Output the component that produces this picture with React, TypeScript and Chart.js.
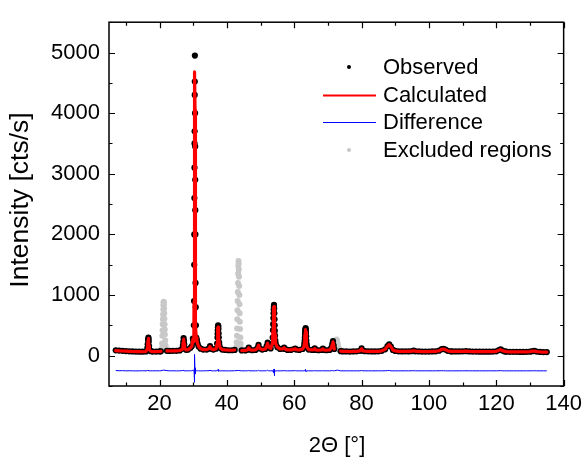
import React, { useEffect, useRef } from 'react';
import { Chart, registerables } from 'chart.js';
Chart.register(...registerables);

const FONT = '"Liberation Sans", Arial, Helvetica, sans-serif';

const twoTheta = [
  7, 8, 9, 10, 11, 12, 13, 14, 15, 16.0, 16.4, 16.5, 16.6, 16.7, 16.75, 16.8, 16.9, 17.0, 17.4, 18, 19, 20, 20.4,
  21.2,
  22.2, 23, 24, 25, 26, 26.75, 26.95, 27.05, 27.15, 27.25, 27.35, 27.45, 27.9, 28.5, 29.2, 29.6, 29.9, 30.05,
  30.2, 30.25, 30.3, 30.32, 30.35, 30.38, 30.4, 30.42, 30.45, 30.48, 30.5, 30.55, 30.58, 30.6, 30.62, 30.65, 30.7, 30.75, 30.8,
  30.9, 31.1, 31.3, 31.6, 32.2, 33, 34, 34.7, 35.0, 35.3, 36, 36.8,
  37.1, 37.2, 37.25, 37.3, 37.35, 37.4, 37.45, 37.5, 37.55, 37.6, 37.7, 37.75, 38, 38.6, 39.5, 40.5, 41.5, 42.3,
  43.4,
  44.4, 45.5, 46.2, 46.5, 46.8, 47.5, 48.5, 49.1, 49.4, 49.7,
  50.5, 51.4, 51.8, 52.1, 52.4,
  53.0, 53.5, 53.6, 53.7, 53.75, 53.8, 53.85, 53.9, 53.95, 54.0, 54.05, 54.1, 54.15, 54.2, 54.25, 54.3, 54.4, 54.5,
  55, 55.8, 56.7, 57.0, 57.3, 58, 59, 60, 60.3, 60.6, 61.5, 62.5,
  62.9, 63.0, 63.1, 63.15, 63.2, 63.25, 63.3, 63.35, 63.4, 63.45, 63.5, 63.55, 63.6, 63.7, 63.8,
  64.3, 65.3, 65.8, 66.1, 66.4, 67.2, 68.2, 68.5, 68.8, 69.5, 70.5, 71.0, 71.3, 71.5, 71.7, 71.9,
  72.8,
  73.8, 74.5, 75.5, 76.5, 77.5, 78.5, 79.5, 80.0, 80.4, 81, 82, 83, 84, 85, 86, 87, 87.7, 88.2, 88.7, 89.3,
  90, 91, 92, 93, 94, 95, 95.5, 96, 97, 98, 99, 100, 101, 102, 103, 103.8, 104.3, 104.9, 105.6, 106.5,
  107, 108, 109, 110, 111, 112, 113, 114, 115, 116, 117, 118, 119, 120, 120.8, 121.3, 121.8, 122.5, 123, 124,
  125, 126, 127, 128, 129, 130, 130.8, 131.3, 132, 133, 134, 135,
];

const observed = [
  88, 84, 80, 76, 72, 70, 68, 66, 66, 70, 130, 190, 260, 300, 270, 230, 160, 100, 74, 68, 68, 70, 72,
  null,
  80, 78, 80, 80, 86, 115, 170, 230, 290, 250, 190, 130, 96, 100, 130, 160, 280, 230,
  500, 900, 1500, 2000, 2600, 3100, 3500, 3700, 4300, 4520, 4950, 4000, 3450, 2900, 2400, 2000, 1200, 800, 500,
  300, 260, 200, 150, 115, 100, 100, 120, 160, 115, 100, 115,
  200, 300, 360, 420, 470, 500, 480, 440, 370, 300, 220, 180, 130, 100, 95, 90, 90, 95,
  null,
  86, 86, 100, 135, 100, 90, 95, 130, 180, 120,
  100, 110, 160, 215, 140,
  120, 200, 300, 420, 520, 620, 700, 760, 810, 840, 780, 700, 600, 500, 410, 330, 250, 200,
  140, 110, 115, 135, 110, 95, 95, 110, 115, 100, 95, 110,
  150, 200, 250, 300, 350, 390, 420, 440, 455, 420, 380, 320, 250, 190, 140,
  100, 95, 100, 120, 95, 90, 95, 115, 95, 90, 95, 130, 190, 240, 170, 110,
  null,
  75, 70, 70, 68, 70, 72, 80, 120, 80, 75, 72, 70, 70, 72, 80, 105, 160, 185, 150, 95,
  78, 72, 70, 72, 70, 75, 85, 72, 70, 68, 68, 68, 70, 72, 82, 108, 112, 100, 80, 72,
  70, 70, 70, 72, 75, 70, 68, 68, 66, 66, 66, 66, 68, 72, 92, 105, 85, 70, 66, 64,
  64, 64, 62, 62, 64, 66, 75, 78, 68, 62, 60, 60,
];

const calculated = [
  82, 80, 77, 74, 71, 69, 67, 66, 65, 69, 122, 185, 250, 285, 265, 225, 158, 98, 72, 68, 68, 70, 72,
  null,
  78, 77, 79, 80, 85, 110, 168, 222, 275, 245, 190, 128, 95, 100, 128, 158, 270, 228,
  490, 880, 1480, 2050, 2650, 3150, 3550, 3900, 4350, 4600, 4680, 4050, 3480, 2950, 2450, 1950, 1180, 790, 495,
  298, 255, 200, 150, 116, 100, 100, 118, 150, 114, 100, 114,
  196, 295, 355, 410, 455, 470, 470, 445, 375, 305, 222, 180, 130, 100, 95, 91, 90, 94,
  null,
  85, 86, 99, 130, 100, 90, 95, 128, 172, 120,
  100, 110, 157, 205, 140,
  120, 198, 305, 430, 535, 640, 720, 790, 800, 810, 790, 720, 610, 510, 420, 335, 255, 200,
  140, 110, 114, 130, 110, 95, 95, 108, 112, 100, 95, 110,
  150, 198, 245, 298, 355, 390, 415, 428, 430, 415, 390, 325, 255, 190, 140,
  100, 95, 100, 116, 95, 90, 95, 112, 95, 90, 95, 128, 186, 230, 170, 110,
  null,
  75, 70, 70, 68, 70, 72, 80, 115, 80, 75, 72, 70, 70, 72, 80, 104, 156, 180, 150, 95,
  78, 72, 70, 72, 70, 74, 82, 72, 70, 68, 68, 68, 70, 72, 81, 106, 110, 100, 80, 72,
  70, 70, 70, 72, 74, 70, 68, 68, 66, 66, 66, 66, 68, 72, 90, 102, 85, 70, 66, 64,
  64, 64, 62, 62, 64, 66, 74, 76, 68, 62, 60, 60,
];

const difference = [
  -245, -248, -247, -250, -249, -250, -251, -250, -249, -250, -245, -245, -242, -236, -245, -248, -250, -252, -250, -250, -249, -250, -248,
  -238,
  -246, -250, -249, -251, -250, -246, -248, -243, -236, -247, -250, -250, -250, -250, -249, -248, -242, -248,
  -240, -230, -220, -300, -300, -300, -300, -440, -300, -330, 20, -300, -280, -300, -300, -200, -230, -240, -245,
  -248, -245, -250, -250, -251, -250, -249, -248, -240, -250, -250, -250,
  -246, -245, -245, -240, -235, -228, -240, -255, -255, -255, -252, -250, -250, -250, -250, -251, -250, -249,
  -243,
  -250, -250, -249, -245, -250, -250, -250, -249, -242, -250,
  -250, -250, -247, -240, -250,
  -250, -248, -255, -260, -265, -270, -270, -280, -240, -220, -330, -270, -260, -260, -260, -255, -255, -250,
  -250, -250, -249, -245, -250, -250, -250, -248, -247, -250, -250, -250,
  -250, -248, -245, -248, -255, -250, -245, -238, -225, -245, -260, -255, -255, -250, -250,
  -250, -250, -250, -246, -250, -250, -250, -247, -250, -250, -250, -248, -246, -240, -250, -250,
  -238,
  -250, -250, -250, -250, -250, -250, -250, -245, -250, -250, -250, -250, -250, -250, -250, -249, -246, -244, -250, -250,
  -250, -250, -250, -250, -250, -249, -247, -250, -250, -250, -250, -250, -250, -250, -249, -248, -248, -250, -250, -250,
  -250, -250, -250, -250, -249, -250, -250, -250, -250, -250, -250, -250, -250, -250, -248, -247, -250, -250, -250, -250,
  -250, -250, -250, -250, -250, -250, -249, -248, -250, -250, -250, -250,
];

const excludedTheta = [
  20.55, 20.65, 20.75, 20.85, 20.9, 20.95, 21.0, 21.05, 21.1, 21.15, 21.2, 21.25, 21.3, 21.35, 21.4, 21.45, 21.5, 21.55, 21.6, 21.7, 21.8, 21.9, 22.0,
  42.7, 42.8, 42.9, 43.0, 43.05, 43.1, 43.15, 43.2, 43.25, 43.3, 43.35, 43.4, 43.45, 43.5, 43.55, 43.6, 43.65, 43.7, 43.75, 43.8, 43.85, 43.9, 44.0, 44.1, 44.2, 44.3,
  72.0, 72.2, 72.4, 72.55, 72.7, 72.85, 73.0, 73.2, 73.4, 73.6,
];
const excludedIntensity = [
  85, 120, 200, 330, 420, 520, 600, 680, 760, 830, 880, 890, 850, 780, 700, 610, 520, 430, 350, 250, 170, 120, 95,
  100, 140, 220, 330, 450, 600, 750, 900, 1050, 1200, 1350, 1480, 1560, 1520, 1420, 1300, 1150, 1000, 850, 700, 560, 440, 300, 200, 130, 100,
  110, 180, 240, 265, 250, 210, 170, 130, 100, 85,
];

const xTickValues = [20, 40, 60, 80, 100, 120, 140];
const yTickValues = [0, 1000, 2000, 3000, 4000, 5000];
const xMinorStep = 10;
const yMinorStep = 500;

const legendItems = [
  { label: 'Observed', kind: 'dot', color: '#000000' },
  { label: 'Calculated', kind: 'line', color: '#ff0000', width: 2 },
  { label: 'Difference', kind: 'line', color: '#0000ff', width: 1 },
  { label: 'Excluded regions', kind: 'dot', color: '#c8c8c8' },
];

const framePlugin = {
  id: 'framePlugin',
  afterDraw(chart: any) {
    const { ctx, chartArea: a, scales } = chart;
    const xs = scales.x;
    const ys = scales.y;
    ctx.save();
    ctx.strokeStyle = '#000';
    ctx.lineWidth = 1.5;
    ctx.strokeRect(a.left, a.top, a.right - a.left, a.bottom - a.top);
    ctx.lineWidth = 1.2;
    ctx.beginPath();
    for (let v = 10; v <= 140; v += xMinorStep) {
      const px = Math.round(xs.getPixelForValue(v)) + 0.5;
      const len = v % 20 === 0 ? 6 : 3.5;
      ctx.moveTo(px, a.bottom);
      ctx.lineTo(px, a.bottom - len);
      ctx.moveTo(px, a.top);
      ctx.lineTo(px, a.top + len);
    }
    for (let v = -500; v <= 5500; v += yMinorStep) {
      const py = Math.round(ys.getPixelForValue(v)) + 0.5;
      const len = v % 1000 === 0 ? 6 : 3.5;
      ctx.moveTo(a.left, py);
      ctx.lineTo(a.left + len, py);
      ctx.moveTo(a.right, py);
      ctx.lineTo(a.right - len, py);
    }
    ctx.stroke();

    // axis titles
    ctx.fillStyle = '#000';
    ctx.font = `26.5px ${FONT}`;
    ctx.textAlign = 'center';
    ctx.textBaseline = 'middle';
    ctx.save();
    ctx.translate(21, 200);
    ctx.rotate(-Math.PI / 2);
    ctx.fillText('Intensity [cts/s]', 0, 0);
    ctx.restore();
    ctx.font = `22px ${FONT}`;
    ctx.fillText('2Θ [°]', 337, 446);

    // legend
    const rowY = [67, 95, 122, 150];
    legendItems.forEach((it, i) => {
      const y = rowY[i];
      if (it.kind === 'dot') {
        ctx.fillStyle = it.color;
        ctx.beginPath();
        ctx.arc(349, y, 2, 0, Math.PI * 2);
        ctx.fill();
      } else {
        ctx.strokeStyle = it.color;
        ctx.lineWidth = it.width as number;
        ctx.beginPath();
        ctx.moveTo(323, y + 0.5);
        ctx.lineTo(376, y + 0.5);
        ctx.stroke();
      }
      ctx.fillStyle = '#000';
      ctx.font = `22px ${FONT}`;
      ctx.textAlign = 'left';
      ctx.textBaseline = 'middle';
      ctx.fillText(it.label, 383, y + 1);
    });
    ctx.restore();
  },
};

export default function App() {
  const ref = useRef<HTMLCanvasElement>(null);
  useEffect(() => {
    const calcData = twoTheta.map((x, i) => ({ x, y: calculated[i] }));
    const obsData = twoTheta.map((x, i) => ({ x, y: observed[i] }));
    const diffData = twoTheta.map((x, i) => ({ x, y: difference[i] }));
    const exData = excludedTheta.map((x, i) => ({ x, y: excludedIntensity[i] }));
    const chart = new Chart(ref.current as HTMLCanvasElement, {
      type: 'line',
      data: {
        datasets: [
          { label: 'Calculated', data: calcData as any, borderColor: '#ff0000', borderWidth: 3.2, borderJoinStyle: 'round', borderCapStyle: 'round', pointRadius: 0, spanGaps: false, order: 0, tension: 0 },
          { label: 'Observed', data: obsData as any, showLine: false, pointRadius: 3.1, pointBackgroundColor: '#000', pointBorderWidth: 0, borderColor: '#000', order: 1 },
          { label: 'Excluded regions', data: exData as any, showLine: false, pointRadius: 3, pointBackgroundColor: '#c8c8c8', pointBorderWidth: 0, borderColor: '#c8c8c8', order: 2 },
          { label: 'Difference', data: diffData as any, borderColor: '#0000ff', borderWidth: 1, borderJoinStyle: 'round', pointRadius: 0, order: 3 },
        ],
      },
      options: {
        animation: false,
        responsive: false,
        devicePixelRatio: 1,
        layout: { padding: { left: 0, top: 13, right: 19, bottom: 0 } },
        plugins: { legend: { display: false }, tooltip: { enabled: false } },
        scales: {
          x: {
            type: 'linear',
            min: 5,
            max: 140,
            afterBuildTicks: (s: any) => { s.ticks = xTickValues.map((v) => ({ value: v })); },
            afterFit: (s: any) => { s.height = 71; },
            grid: { display: false, drawTicks: false },
            border: { display: false },
            ticks: { color: '#000', font: { size: 22, family: FONT }, padding: 5, maxRotation: 0, autoSkip: false, callback: (v: any) => String(v) },
          },
          y: {
            type: 'linear',
            min: -500,
            max: 5500,
            afterBuildTicks: (s: any) => { s.ticks = yTickValues.map((v) => ({ value: v })); },
            afterFit: (s: any) => { s.width = 109; },
            grid: { display: false, drawTicks: false },
            border: { display: false },
            ticks: { color: '#000', font: { size: 22, family: FONT }, padding: 9, autoSkip: false, callback: (v: any) => String(v) },
          },
        },
      },
      plugins: [framePlugin],
    });
    return () => chart.destroy();
  }, []);
  return (
    <div style={{ position: 'fixed', left: 0, top: 0, width: 587, height: 457, background: '#fff' }}>
      <canvas ref={ref} width={587} height={457} style={{ display: 'block' }} />
    </div>
  );
}
